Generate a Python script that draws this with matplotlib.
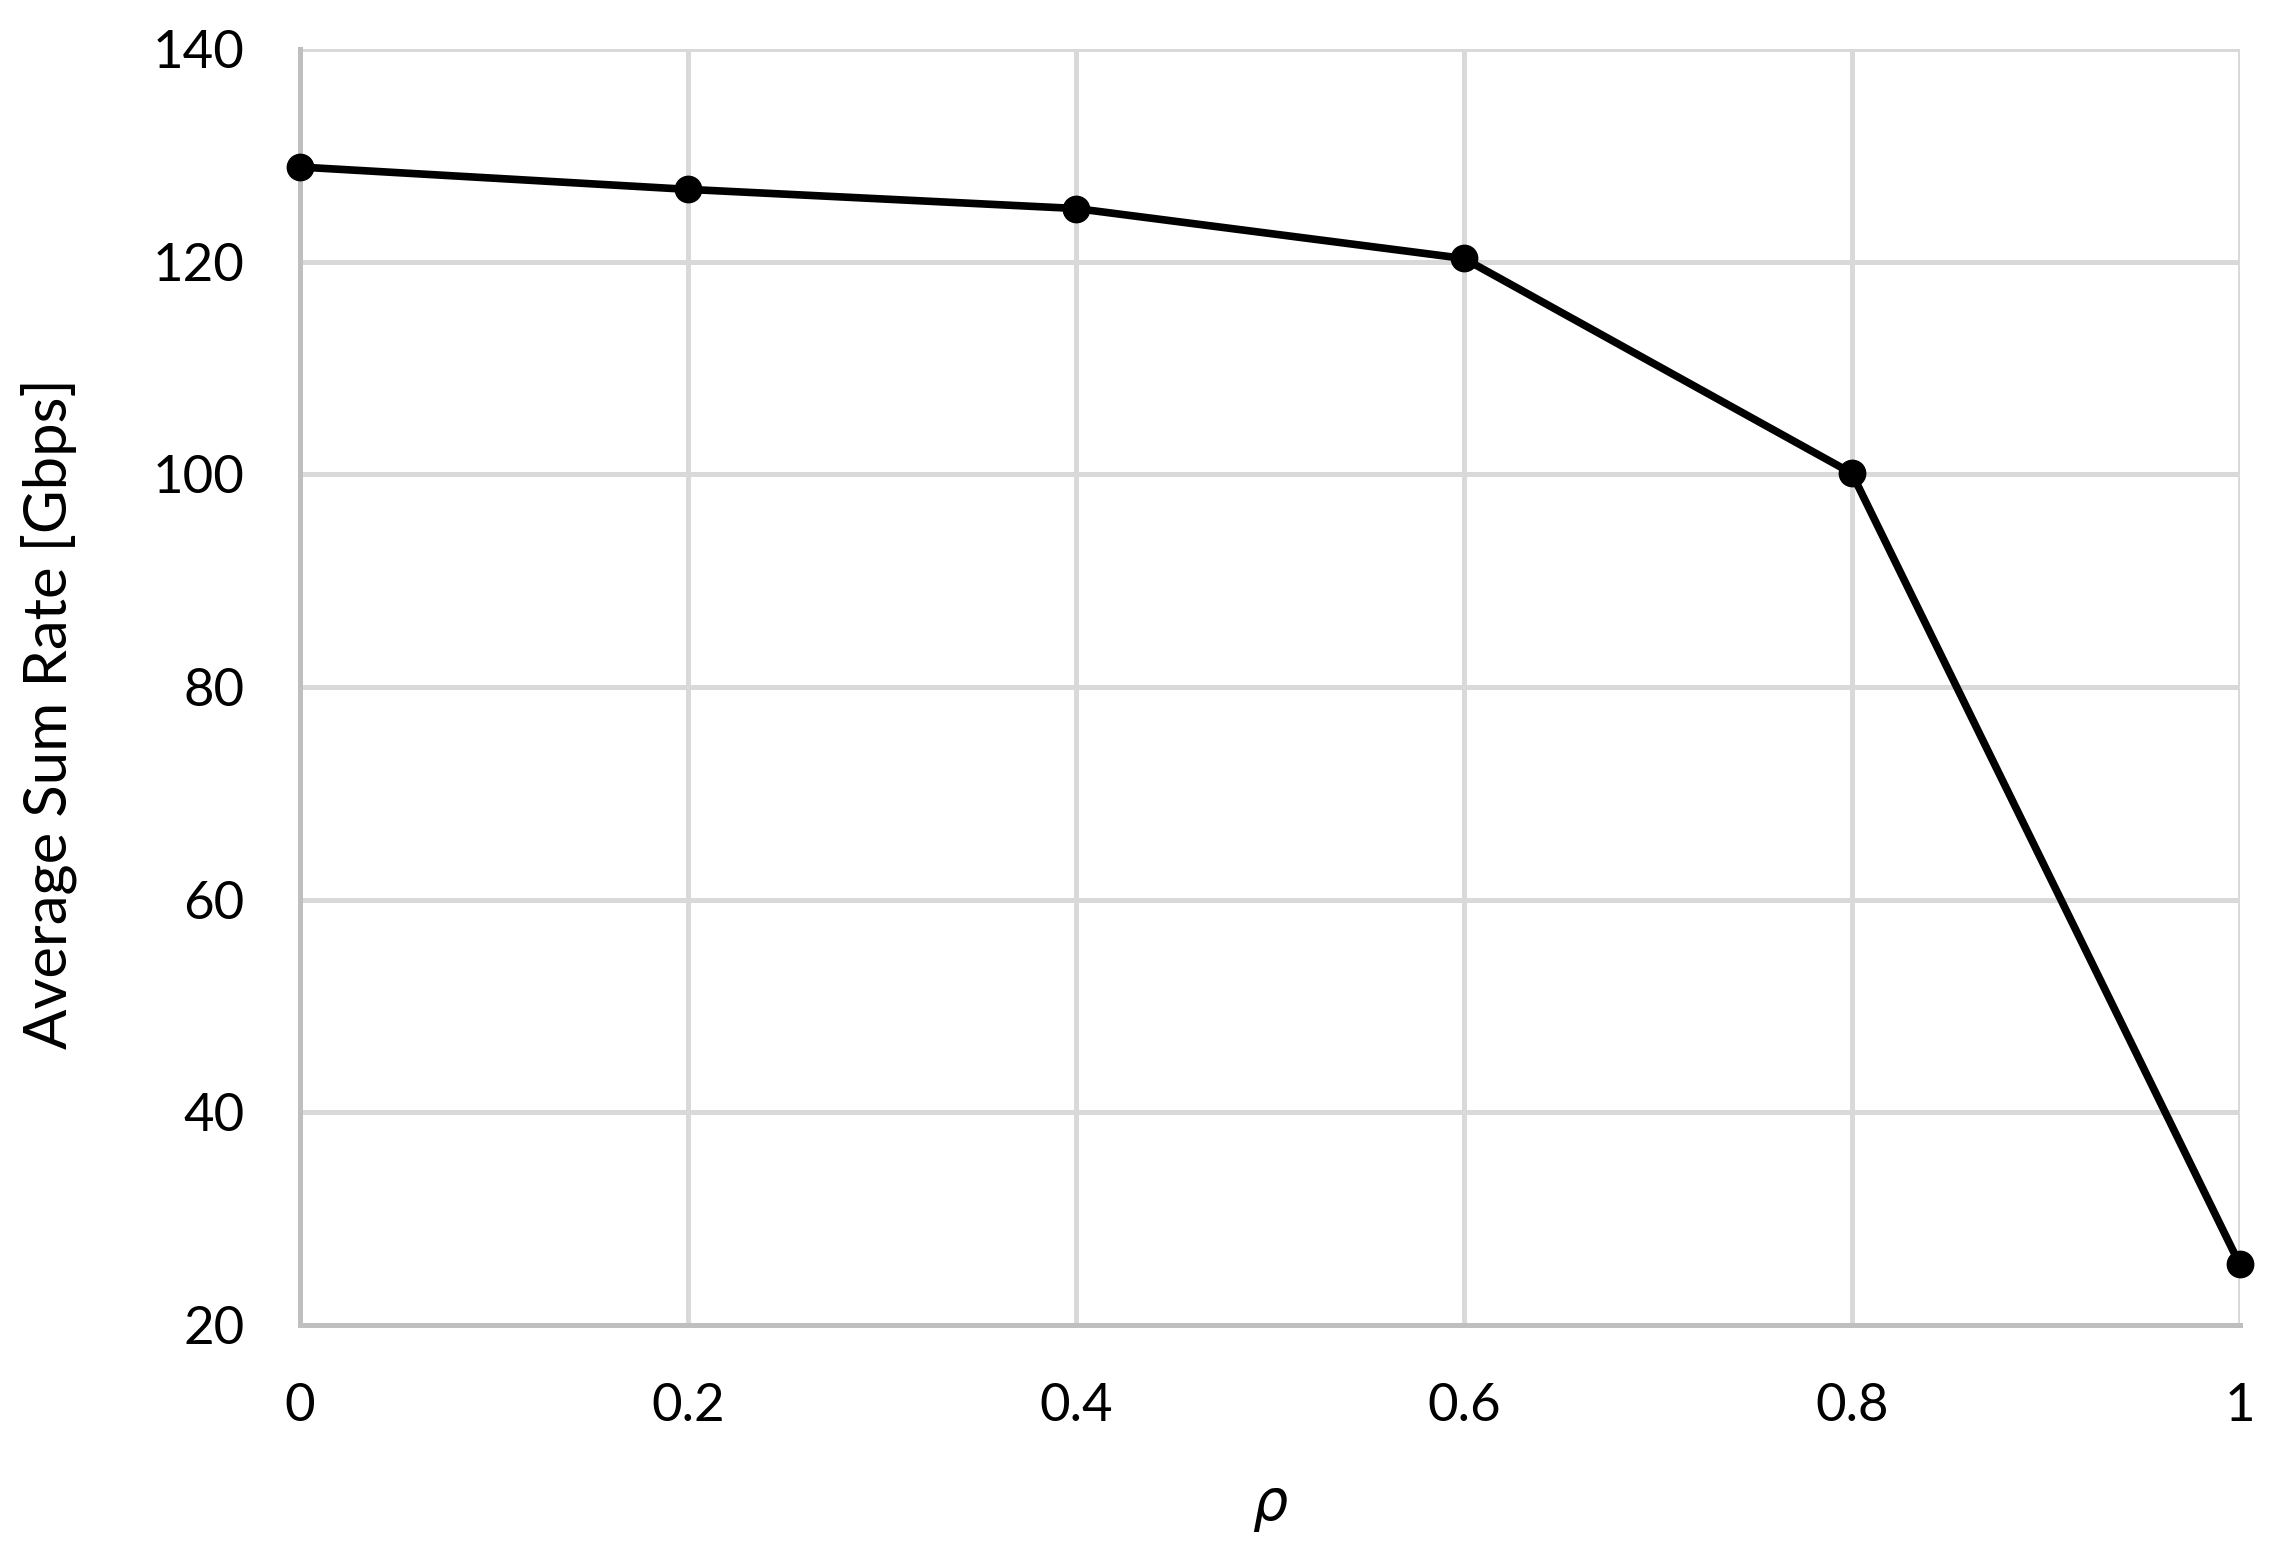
import matplotlib.pyplot as plt

# --------------------------------
# DATA
# --------------------------------

rho = [0, 0.2, 0.4, 0.6, 0.8, 1]
sum_rate = [128.9, 126.8, 125.0, 120.3, 100.1, 25.7]

x_ticks = [0, 0.2, 0.4, 0.6, 0.8, 1]
x_tick_labels = ["0", "0.2", "0.4", "0.6", "0.8", "1"]
y_ticks = [20, 40, 60, 80, 100, 120, 140]

# --------------------------------
# FIGURE
# --------------------------------

plt.rcParams['font.family'] = ['Lato', 'DejaVu Sans']

fig = plt.figure(figsize=(22.82, 15.61), dpi=100)
ax = fig.add_axes([0.1315, 0.1512, 0.85, 0.8174])

ax.plot(rho, sum_rate, color='black', linewidth=5.5, marker='o',
        markersize=19, zorder=3, clip_on=False)

ax.set_xlim(0, 1)
ax.set_ylim(20, 140)
ax.set_xticks(x_ticks)
ax.set_xticklabels(x_tick_labels)
ax.set_yticks(y_ticks)

ax.grid(True, color='#d9d9d9', linewidth=3.6)
ax.set_axisbelow(True)

for side in ['top', 'right']:
    ax.spines[side].set_visible(False)
for side in ['left', 'bottom']:
    ax.spines[side].set_color('#bfbfbf')
    ax.spines[side].set_linewidth(3.6)

ax.tick_params(axis='both', length=0, labelsize=38, colors='black')
ax.tick_params(axis='x', pad=42)
ax.tick_params(axis='y', pad=40)

ax.set_xlabel(r"$\rho$", fontsize=40, labelpad=38)
ax.set_ylabel("Average Sum Rate [Gbps]", fontsize=43)
ax.yaxis.set_label_coords(-0.115, 0.479)

fig.savefig("out.png", dpi=100)
